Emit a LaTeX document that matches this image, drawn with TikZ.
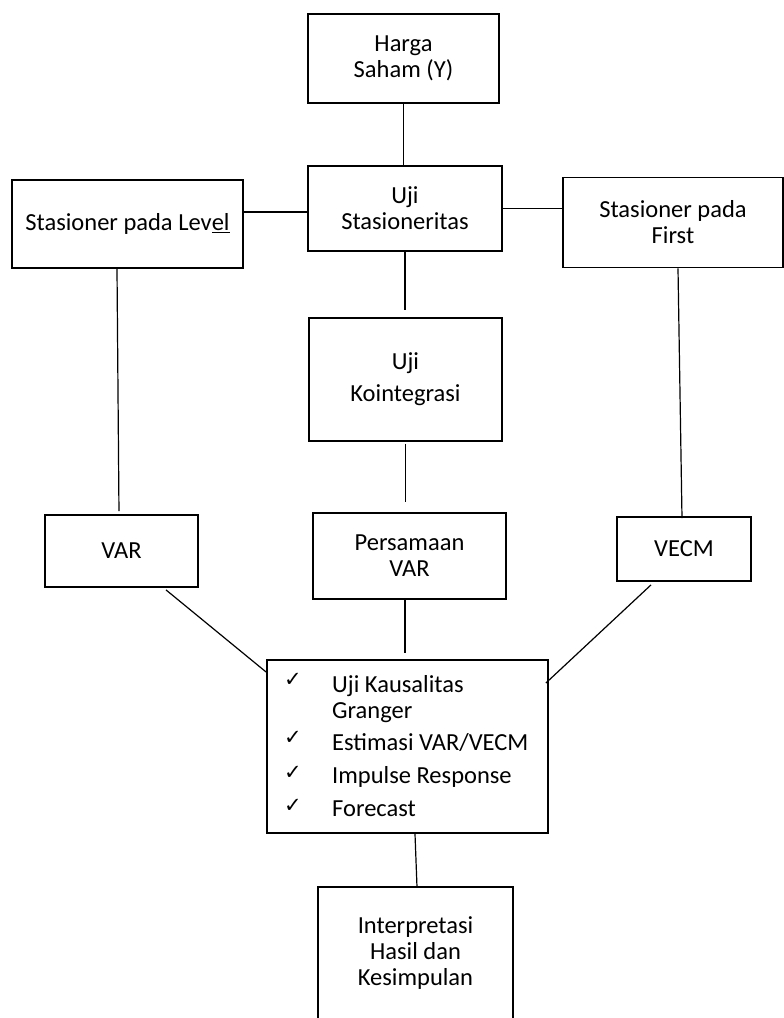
\documentclass[tikz,border=0pt]{standalone}
\usepackage{fontspec}
\setmainfont{Carlito}
\newfontfamily\symfont{DejaVu Sans}
\begin{document}
\begin{tikzpicture}[x=1pt,y=-1pt,
	tepi/.style={line width=1.8pt},
	kotak/.style={draw, tepi, align=center, inner sep=0pt, font=\fontsize{24.5}{26}\selectfont},
	garis/.style={line width=1.2pt},
	isi/.style={anchor=base west, inner sep=0pt, font=\fontsize{24.5}{26}\selectfont},
	centang/.style={inner sep=0pt, font=\symfont\fontsize{21}{21}\selectfont}]
		\useasboundingbox (0,0) rectangle (784,1018);
		\node[kotak, minimum width=191pt, minimum height=89pt] (harga) at (403.5,58.5) {Harga\\Saham (Y)};
		\node[kotak, minimum width=194pt, minimum height=85pt] (stasioneritas) at (405,208.5) {Uji\\Stasioneritas};
		\node[kotak, minimum width=231pt, minimum height=88pt] (level) at (127.5,224) {Stasioner pada Lev\underline{el}};
		\node[kotak, minimum width=220pt, minimum height=90pt] (first) at (673,222.5) {Stasioner pada\\First};
		\node[kotak, minimum width=193pt, minimum height=123pt, font=\fontsize{24.5}{32}\selectfont] (kointegrasi) at (405.5,379.5) {Uji\\Kointegrasi};
		\node[kotak, minimum width=153pt, minimum height=72pt] (var) at (121.5,551) {VAR};
		\node[kotak, minimum width=193pt, minimum height=86pt] (persamaan) at (409.5,556) {Persamaan\\VAR};
		\node[kotak, minimum width=134pt, minimum height=64pt] (vecm) at (684,549) {VECM};
		\node[kotak, minimum width=281pt, minimum height=173pt] (cek) at (407.5,746.5) {};
		\node[kotak, draw=none, minimum width=193pt, minimum height=130pt] (interpretasi) at (415.5,953) {Interpretasi\\Hasil dan\\Kesimpulan};
		\draw[tepi] (interpretasi.south west) -- (interpretasi.north west) -- (interpretasi.north east) -- (interpretasi.south east);
		\node[centang] (centang1) at (293,680) {✓};
		\node[centang] (centang2) at (293,738) {✓};
		\node[centang] (centang3) at (293,773) {✓};
		\node[centang] (centang4) at (293,806) {✓};
		\node[isi] (isi1) at (332,692) {Uji Kausalitas};
		\node[isi] (isi1b) at (332,718) {Granger};
		\node[isi] (isi2) at (332,750) {Estimasi VAR/VECM};
		\node[isi] (isi3) at (332,783) {Impulse Response};
		\node[isi] (isi4) at (332,816) {Forecast};
		\draw[garis] (harga.south) -- (harga.south |- stasioneritas.north);
		\draw[garis] ([yshift=-3.5pt]stasioneritas.west) -- ([yshift=-3.5pt]stasioneritas.west -| level.east);
		\draw[garis] (stasioneritas.east) -- (stasioneritas.east -| first.west);
		\draw[garis, shorten >=7pt] (stasioneritas.south) -- (stasioneritas.south |- kointegrasi.north);
		\draw[garis, shorten <=2pt, shorten >=10pt] (kointegrasi.south) -- (kointegrasi.south |- persamaan.north);
		\draw[garis, shorten >=6pt] ([xshift=-4.5pt]persamaan.south) -- ([xshift=-4.5pt]persamaan.south |- cek.north);
		\draw[garis, shorten >=3pt] ([xshift=-10.5pt]level.south) -- ([xshift=-2.5pt]var.north);
		\draw[garis] ([xshift=5pt]first.south) -- ([xshift=-2pt,yshift=-2pt]vecm.north);
		\draw[garis] ([xshift=44.5pt,yshift=-2pt]var.south) -- ([yshift=74.5pt]cek.west);
		\draw[garis] ([xshift=-33pt,yshift=-3pt]vecm.south) -- ([xshift=-3pt,yshift=63.5pt]cek.east);
		\draw[garis] ([xshift=7.5pt]cek.south) -- ([xshift=1.5pt]interpretasi.north);
\end{tikzpicture}
\end{document}
